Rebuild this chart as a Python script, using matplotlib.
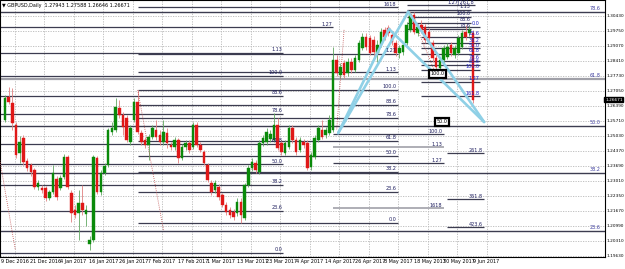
import numpy as np
import matplotlib.pyplot as plt
import matplotlib.transforms as mtransforms

# GBPUSD daily bars (oldest first)
opens = [1.2575, 1.2678, 1.2651, 1.2552, 1.2427, 1.2494, 1.2391, 1.2373, 1.2350, 1.2274,
         1.2269, 1.2269, 1.2224, 1.2251, 1.2310, 1.2269, 1.2319, 1.2409, 1.2247, 1.2170,
         1.2157, 1.2202, 1.2152, 1.2017, 1.2035, 1.2404, 1.2251, 1.2337, 1.2373, 1.2521,
         1.2530, 1.2629, 1.2597, 1.2584, 1.2476, 1.2575, 1.2656, 1.2516, 1.2485, 1.2463,
         1.2498, 1.2530, 1.2507, 1.2476, 1.2516, 1.2463, 1.2454, 1.2485, 1.2404, 1.2454,
         1.2472, 1.2454, 1.2552, 1.2463, 1.2431, 1.2373, 1.2292, 1.2260, 1.2274, 1.2238,
         1.2193, 1.2170, 1.2161, 1.2157, 1.2206, 1.2134, 1.2283, 1.2359, 1.2382, 1.2341,
         1.2472, 1.2476, 1.2489, 1.2485, 1.2552, 1.2472, 1.2427, 1.2454, 1.2539, 1.2485,
         1.2440, 1.2476, 1.2472, 1.2364, 1.2409, 1.2485, 1.2530, 1.2507, 1.2516, 1.2530,
         1.2845, 1.2777, 1.2831, 1.2786, 1.2836, 1.2800, 1.2845, 1.2899, 1.2948, 1.2944,
         1.2935, 1.2876, 1.2912, 1.2980, 1.2989, 1.2957, 1.2921, 1.2876, 1.2881, 1.2921,
         1.2980, 1.3047, 1.2966, 1.3002, 1.2993, 1.2971, 1.2921, 1.2854, 1.2809, 1.2845,
         1.2858, 1.2912, 1.2867, 1.2876, 1.2903, 1.2971, 1.2966, 1.2966]
highs = [1.2687, 1.2723, 1.2719, 1.2566, 1.2503, 1.2507, 1.2404, 1.2382, 1.2359, 1.2305,
         1.2283, 1.2278, 1.2260, 1.2373, 1.2323, 1.2328, 1.2422, 1.2418, 1.2260, 1.2193,
         1.2260, 1.2283, 1.2193, 1.2053, 1.2418, 1.2413, 1.2350, 1.2382, 1.2539, 1.2566,
         1.2674, 1.2665, 1.2611, 1.2597, 1.2552, 1.2674, 1.2710, 1.2530, 1.2498, 1.2512,
         1.2552, 1.2575, 1.2530, 1.2575, 1.2539, 1.2476, 1.2498, 1.2494, 1.2467, 1.2485,
         1.2485, 1.2566, 1.2566, 1.2476, 1.2440, 1.2382, 1.2305, 1.2305, 1.2287, 1.2247,
         1.2206, 1.2184, 1.2175, 1.2224, 1.2224, 1.2292, 1.2373, 1.2404, 1.2395, 1.2485,
         1.2507, 1.2539, 1.2530, 1.2606, 1.2584, 1.2485, 1.2485, 1.2552, 1.2552, 1.2498,
         1.2498, 1.2489, 1.2485, 1.2431, 1.2507, 1.2552, 1.2575, 1.2543, 1.2597, 1.2903,
         1.2867, 1.2831, 1.2845, 1.2854, 1.2854, 1.2867, 1.2935, 1.2966, 1.2966, 1.2957,
         1.2953, 1.2935, 1.2989, 1.2993, 1.3002, 1.2971, 1.2935, 1.2912, 1.2926, 1.3016,
         1.3061, 1.3061, 1.3007, 1.3025, 1.3007, 1.2989, 1.2935, 1.2867, 1.2858, 1.2912,
         1.2921, 1.2926, 1.2912, 1.2957, 1.2980, 1.3002, 1.2998, 1.2980]
lows = [1.2566, 1.2647, 1.2530, 1.2404, 1.2382, 1.2373, 1.2346, 1.2323, 1.2265, 1.2260,
        1.2247, 1.2211, 1.2215, 1.2242, 1.2215, 1.2260, 1.2310, 1.2265, 1.2116, 1.2134,
        1.2035, 1.2148, 1.2098, 1.1990, 1.2026, 1.2242, 1.2238, 1.2328, 1.2364, 1.2507,
        1.2521, 1.2584, 1.2507, 1.2476, 1.2463, 1.2566, 1.2512, 1.2463, 1.2449, 1.2395,
        1.2489, 1.2485, 1.2463, 1.2463, 1.2449, 1.2440, 1.2440, 1.2382, 1.2395, 1.2440,
        1.2427, 1.2445, 1.2454, 1.2431, 1.2373, 1.2296, 1.2238, 1.2247, 1.2215, 1.2184,
        1.2148, 1.2134, 1.2125, 1.2143, 1.2112, 1.2125, 1.2274, 1.2346, 1.2337, 1.2332,
        1.2458, 1.2463, 1.2476, 1.2476, 1.2440, 1.2418, 1.2418, 1.2445, 1.2472, 1.2418,
        1.2431, 1.2449, 1.2350, 1.2350, 1.2400, 1.2476, 1.2489, 1.2494, 1.2507, 1.2521,
        1.2773, 1.2764, 1.2764, 1.2773, 1.2786, 1.2791, 1.2836, 1.2890, 1.2890, 1.2867,
        1.2845, 1.2836, 1.2903, 1.2935, 1.2953, 1.2912, 1.2863, 1.2854, 1.2867, 1.2912,
        1.2971, 1.2962, 1.2953, 1.2966, 1.2921, 1.2926, 1.2836, 1.2777, 1.2791, 1.2831,
        1.2849, 1.2863, 1.2854, 1.2867, 1.2894, 1.2935, 1.2953, 1.2651]
closes = [1.2674, 1.2656, 1.2561, 1.2418, 1.2476, 1.2386, 1.2359, 1.2341, 1.2274, 1.2292,
          1.2260, 1.2224, 1.2251, 1.2337, 1.2229, 1.2314, 1.2409, 1.2274, 1.2157, 1.2148,
          1.2202, 1.2170, 1.2170, 1.2035, 1.2409, 1.2251, 1.2337, 1.2368, 1.2530, 1.2539,
          1.2633, 1.2597, 1.2543, 1.2485, 1.2539, 1.2656, 1.2521, 1.2476, 1.2463, 1.2498,
          1.2539, 1.2498, 1.2476, 1.2521, 1.2472, 1.2454, 1.2485, 1.2404, 1.2454, 1.2472,
          1.2440, 1.2552, 1.2463, 1.2440, 1.2382, 1.2305, 1.2251, 1.2292, 1.2229, 1.2193,
          1.2161, 1.2148, 1.2139, 1.2206, 1.2148, 1.2283, 1.2359, 1.2386, 1.2350, 1.2472,
          1.2494, 1.2521, 1.2512, 1.2552, 1.2449, 1.2431, 1.2472, 1.2539, 1.2485, 1.2431,
          1.2485, 1.2463, 1.2359, 1.2418, 1.2494, 1.2539, 1.2498, 1.2530, 1.2575, 1.2845,
          1.2786, 1.2813, 1.2777, 1.2836, 1.2800, 1.2854, 1.2921, 1.2948, 1.2903, 1.2876,
          1.2881, 1.2912, 1.2971, 1.2948, 1.2966, 1.2926, 1.2876, 1.2899, 1.2912, 1.3002,
          1.3047, 1.2971, 1.2993, 1.2980, 1.2935, 1.2944, 1.2854, 1.2813, 1.2845, 1.2899,
          1.2903, 1.2876, 1.2899, 1.2944, 1.2966, 1.2948, 1.2980, 1.2667]

date_labels = ['9 Dec 2016', '21 Dec 2016', '4 Jan 2017', '16 Jan 2017', '26 Jan 2017',
               '7 Feb 2017', '17 Feb 2017', '1 Mar 2017', '13 Mar 2017', '23 Mar 2017',
               '4 Apr 2017', '14 Apr 2017', '26 Apr 2017', '8 May 2017', '18 May 2017',
               '30 May 2017', '9 Jun 2017']
price_ticks = [1.30430, 1.29750, 1.29070, 1.28410, 1.27730, 1.27050, 1.26390, 1.25710,
               1.25030, 1.24370, 1.23690, 1.23010, 1.22350, 1.21670, 1.20990, 1.20310,
               1.19630]
last_price = 1.26671

# fibonacci objects: (price at 0, price at 100, first bar, last bar)
fib_levels = [0.0, 23.6, 38.2, 50.0, 61.8, 78.6, 88.6, 100.0]
fib_long = (1.1653, 1.3443)           # levels labelled at right edge
fib_long_levels = [23.6, 38.2, 50.0, 61.8, 78.6]
fib_jan = (1.1977, 1.2773, -1.4, 75.5)
fib_mar = (1.2112, 1.2711, 36, 106.5)
fib_may = (1.2791, 1.3038, 109, 126.5)
fib_may_levels = [78.6, 88.6, 100.0, 113.0]
fib_jun = (1.2993, 1.2800, 113, 129)
fib_jun_levels = [0.0, 23.6, 38.2, 50.0, 61.8, 78.6, 88.6, 100.0, 127.0, 161.8]

# extension lines: price, first bar, last bar, label
ext_prices = [1.2993, 1.3092, 1.2512, 1.2454, 1.2382, 1.2179, 1.2427, 1.2220, 1.2094]
ext_start = [-1.4, 109, 89, 89, 89, 89, 120, 120, 120]
ext_end = [89, 127.5, 119, 119, 119, 119, 130, 130, 130]
ext_text = ['1.27', '1.27|261.8', '100.0', '1.13', '1.27', '1618', '261.8', '361.8', '423.6']

# harmonic pattern points (bar, price): start, inner top, outer top, target
pat_bar = [90.4, 104.2, 109.4, 130.0]
pat_price = [1.2516, 1.2984, 1.3061, 1.2566]

# boxed price notes: bar, price, text
box_bar = [117.3, 118.6]
box_price = [1.2782, 1.2566]
box_text = ['100.0', '50.0']

# dotted anchor lines of the fib tools: (bar0, price0, bar1, price1)
anchors = [(-1.4, 1.2395, 2.8, 1.1990), (36, 1.2710, 43, 1.2080),
           (110, 1.3061, 117, 1.2777), (92, 1.2980, 90, 1.2530)]

W, H = 625, 269
fig = plt.figure(figsize=(W / 100, H / 100), dpi=100)
ax = fig.add_axes([0, 12 / H, 605 / W, 1 - 12 / H])
ax.set_xlim(-1.36, 162.8)
ax.set_ylim(1.1959, 1.31145)
fs = 3.5
line_col = '#3c3c50'
lab_col = '#202060'

# grid
ax.set_yticks(price_ticks)
ax.set_xticks(np.arange(len(date_labels)) * 8 + 2.7)
ax.grid(True, color='#b8b8b8', linestyle=(0, (1.5, 1.5)), linewidth=0.6)
ax.tick_params(left=False, bottom=False, right=False, labelleft=False,
               labelbottom=False)
for s in ax.spines.values():
    s.set_color('black')
    s.set_linewidth(0.8)

x = np.arange(len(opens))
o = np.array(opens); c = np.array(closes)
up = c >= o
cols = np.where(up, '#0a8a0a', '#e01818')
ax.vlines(x, lows, highs, colors=np.where(up, '#60a860', '#e08080'), linewidth=0.6, zorder=3)
ax.bar(x, np.maximum(np.abs(c - o), 0.0002), bottom=np.minimum(o, c), width=0.7,
       color=cols, edgecolor=cols, linewidth=0.3, zorder=4)

def fib(p0, p1, b0, b1, levels, color, lab, lw=0.9):
    for lv in levels:
        p = p0 + (p1 - p0) * lv / 100
        ax.hlines(p, b0, b1, color=color, linewidth=lw, zorder=2)
        txt = ('%.2f' % (lv / 100)) if lv in (113.0, 127.0) else '%.1f' % lv
        if lv == 161.8 and b1 < 110:
            txt = '1618'
        ax.text(b1 - 0.3, p + 0.0004, txt, fontsize=fs, color=lab,
                ha='right', va='bottom', zorder=6)

# long-term fib across the whole chart
for lv in fib_long_levels:
    p = fib_long[0] + (fib_long[1] - fib_long[0]) * lv / 100
    ax.hlines(p, -2, 165, color='#a0a0a8' if lv == 61.8 else line_col,
              linewidth=1.6 if lv == 61.8 else 1.0, zorder=2)
    ax.text(161.6, p + 0.0004, '%.1f' % lv, fontsize=fs, color='#4040a0',
            ha='right', va='bottom', zorder=6)

fib(*fib_jan, fib_levels + [113.0], line_col, lab_col)
fib(*fib_mar, fib_levels + [113.0, 127.0, 161.8], line_col, lab_col)
fib(*fib_may, fib_may_levels, line_col, lab_col)
fib(*fib_jun, fib_jun_levels, line_col, '#2020c0')

for p, b0, b1, t in zip(ext_prices, ext_start, ext_end, ext_text):
    gray = t in ('1.13', '1618')
    ax.hlines(p, b0, b1, color='#a8a8b0' if gray else line_col,
              linewidth=1.3 if gray else 0.9, zorder=2)
    ax.text(b1 - 0.3, p + 0.0001, t, fontsize=fs, color=lab_col,
            ha='right', va='bottom', zorder=6)

for b0, p0, b1, p1 in anchors:
    ax.plot([b0, b1], [p0, p1], color='#c05050', linewidth=0.6,
            linestyle=(0, (1, 1.5)), zorder=3)

# harmonic pattern: two nested peaks from the April low to the target
pb, pp = pat_bar, pat_price
for i, j in [(0, 1), (1, 3), (0, 2), (2, 3)]:
    ax.plot([pb[i], pb[j]], [pp[i], pp[j]], color='#8fd0e6', linewidth=1.9,
            solid_capstyle='round', zorder=5)

for b, p, t in zip(box_bar, box_price, box_text):
    ax.text(b, p, t, fontsize=fs, ha='center', va='center', zorder=9,
            bbox=dict(boxstyle='square,pad=0.35', fc='white', ec='black', lw=1.6))

# title
ax.text(0.004, 0.988, '\u25bc GBPUSD,Daily  1.27943 1.27588 1.26646 1.26671',
        transform=ax.transAxes, fontsize=fs, va='top', ha='left', zorder=7)

# price scale on the right
for p in price_ticks:
    ax.text(1.002, p, '%.5f' % p, transform=ax.get_yaxis_transform(),
            fontsize=3.1, va='center', ha='left', clip_on=False)
ax.text(1.0, last_price, '%.5f' % last_price, transform=ax.get_yaxis_transform(),
        fontsize=3.1, va='center', ha='left', color='white', clip_on=False,
        bbox=dict(boxstyle='square,pad=0.2', fc='black', ec='black'), zorder=8)

# date scale below
off = mtransforms.ScaledTranslation(-4 / 100, -2 / 100, fig.dpi_scale_trans)
for k, d in enumerate(date_labels):
    ax.text(k * 8, 0, d, transform=ax.get_xaxis_transform() + off,
            fontsize=fs, va='top', ha='left', clip_on=False)

fig.savefig('out.png', dpi=100)
